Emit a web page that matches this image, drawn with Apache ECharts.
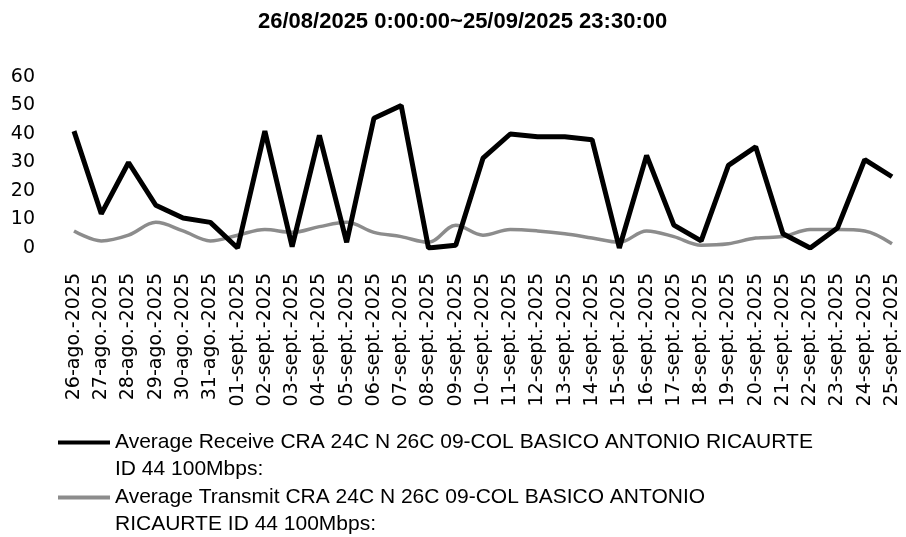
<!DOCTYPE html>
<html>
<head>
<meta charset="utf-8">
<script src="https://cdn.jsdelivr.net/npm/echarts@6/dist/echarts.min.js"></script>
<style>html,body{margin:0;padding:0;background:#fff}#c{width:906px;height:537px}</style>
</head>
<body>
<div id="c"></div>
<script>
var titleText = '26/08/2025 0:00:00~25/09/2025 23:30:00';
var categories = ['26-ago.-2025','27-ago.-2025','28-ago.-2025','29-ago.-2025','30-ago.-2025','31-ago.-2025',
  '01-sept.-2025','02-sept.-2025','03-sept.-2025','04-sept.-2025','05-sept.-2025','06-sept.-2025','07-sept.-2025',
  '08-sept.-2025','09-sept.-2025','10-sept.-2025','11-sept.-2025','12-sept.-2025','13-sept.-2025','14-sept.-2025',
  '15-sept.-2025','16-sept.-2025','17-sept.-2025','18-sept.-2025','19-sept.-2025','20-sept.-2025','21-sept.-2025',
  '22-sept.-2025','23-sept.-2025','24-sept.-2025','25-sept.-2025'];
var receiveName = 'Average Receive CRA 24C N 26C 09-COL BASICO ANTONIO RICAURTE ID 44 100Mbps:';
var transmitName = 'Average Transmit CRA 24C N 26C 09-COL BASICO ANTONIO RICAURTE ID 44 100Mbps:';
var receive = [41, 12, 30, 15, 10.5, 9, 0, 41, 0.5, 39.5, 2, 45.5, 50, 0, 1, 31.5, 40, 39, 39, 38, 0, 32.5, 8, 2.5, 29, 35.5, 5, 0, 7, 31, 25];
var transmit = [6, 2.5, 4.5, 9, 6, 2.5, 4.5, 6.5, 5.5, 7.5, 9, 5.5, 4, 2, 8, 4.5, 6.5, 6, 5, 3.5, 2, 6, 4, 1, 1.5, 3.5, 4, 6.5, 6.5, 6, 1.5];
var yTicks = {min: 0, max: 60, interval: 10};
var legendLines = {};
legendLines[receiveName] = ['Average Receive CRA 24C N 26C 09-COL BASICO ANTONIO RICAURTE', 'ID 44 100Mbps:'];
legendLines[transmitName] = ['Average Transmit CRA 24C N 26C 09-COL BASICO ANTONIO', 'RICAURTE ID 44 100Mbps:'];

var chart = echarts.init(document.getElementById('c'), null, {renderer: 'canvas'});
chart.setOption({
  animation: false,
  backgroundColor: '#fff',
  title: {
    text: titleText, left: 258, top: 11, padding: 0,
    textStyle: {fontFamily: 'Liberation Sans', fontWeight: 'bold', fontSize: 22, color: '#000'}
  },
  grid: {left: 74, right: 14, top: 77, bottom: 289, containLabel: false},
  xAxis: {
    type: 'category', data: categories, boundaryGap: false,
    axisLine: {show: false}, axisTick: {show: false}, splitLine: {show: false},
    axisLabel: {rotate: 90, interval: 0, margin: 25, color: '#000', fontFamily: 'DejaVu Sans', fontSize: 19}
  },
  yAxis: {
    type: 'value', min: yTicks.min, max: yTicks.max, interval: yTicks.interval,
    axisLine: {show: false}, axisTick: {show: false}, splitLine: {show: false},
    axisLabel: {margin: 39, color: '#000', fontFamily: 'DejaVu Sans', fontSize: 19}
  },
  legend: {
    orient: 'vertical', left: 58, top: 402, height: 200, padding: 0, itemGap: -26,
    itemWidth: 52, itemHeight: 4, icon: 'rect',
    data: [receiveName, transmitName],
    formatter: function (n) { return '\n' + legendLines[n].join('\n'); },
    textStyle: {fontFamily: 'Liberation Sans', fontSize: 21, color: '#000', lineHeight: 27}
  },
  series: [
    {name: receiveName, type: 'line', data: receive, showSymbol: false, symbol: 'none',
     lineStyle: {color: '#000', width: 5}, itemStyle: {color: '#000'}, z: 3},
    {name: transmitName, type: 'line', data: transmit, showSymbol: false, symbol: 'none', smooth: 0.35,
     lineStyle: {color: '#8c8c8c', width: 3.5}, itemStyle: {color: '#8c8c8c'}, z: 2}
  ]
});
</script>
</body>
</html>
